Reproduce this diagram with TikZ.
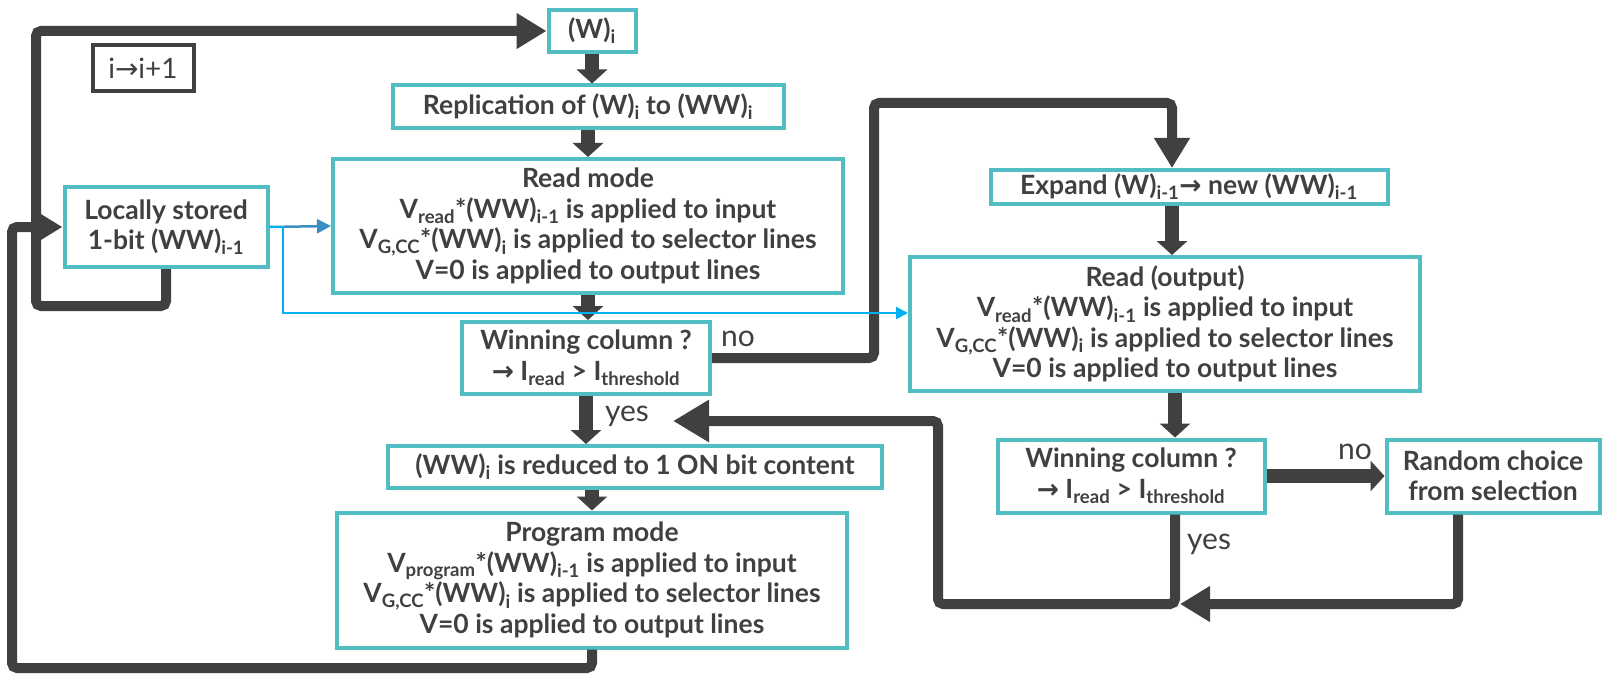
\documentclass[tikz,border=0pt]{standalone}
\usepackage{fontspec}
\setmainfont{Lato}
\newfontfamily\symfont{DejaVu Sans}
\usetikzlibrary{arrows.meta}
\definecolor{boxteal}{HTML}{52BEC3}
\definecolor{ink}{HTML}{404040}
\definecolor{wireblue}{HTML}{3A8EC2}
\definecolor{skyblue}{HTML}{00B0F0}
\newcommand{\toarr}{{\symfont →}}
\tikzset{
  box/.style={draw=boxteal, line width=4pt, fill=white, text=ink, align=center, inner sep=2pt,
    font=\fontsize{26.5}{30.5}\selectfont\bfseries},
  incbox/.style={draw=ink, line width=4pt, text=ink, inner sep=2pt, font=\fontsize{28}{31}\selectfont},
  lbl/.style={text=ink, inner sep=0pt, font=\fontsize{30}{32}\selectfont},
  flow/.style={draw=ink, line width=14pt, -{Triangle[length=14pt,width=30pt]}},
  lp/.style={draw=ink, line width=10pt, rounded corners=5pt, -{Triangle[length=30pt,width=34pt]}}
}
\begin{document}
\begin{tikzpicture}[x=1pt, y=-1pt]
\useasboundingbox (0,0) rectangle (1612,674);
\node[box, minimum width=87pt, minimum height=42pt] (w) at (592,31) {(W)\textsubscript{i}};
\node[incbox, minimum width=101pt, minimum height=46pt] (inc) at (143,68) {i\toarr i+1};
\node[box, minimum width=391pt, minimum height=43pt] (rep) at (588,107) {Replication of (W)\textsubscript{i} to (WW)\textsubscript{i}};
\node[box, minimum width=510pt, minimum height=134pt] (read) at (588,226) {Read mode\\
  V\textsubscript{read}*(WW)\textsubscript{i-1} is applied to input\\
  V\textsubscript{G,CC}*(WW)\textsubscript{i} is applied to selector lines\\
  V=0 is applied to output lines};
\node[box, minimum width=203pt, minimum height=80pt] (loc) at (166,227) {Locally stored\\ 1-bit (WW)\textsubscript{i-1}};
\node[box, minimum width=248pt, minimum height=72pt] (wc1) at (586,358) {Winning column ?\\ \toarr{} I\textsubscript{read} > I\textsubscript{threshold}};
\node[box, minimum width=494pt, minimum height=42pt] (red) at (635,467) {(WW)\textsubscript{i} is reduced to 1 ON bit content};
\node[box, minimum width=510pt, minimum height=135pt] (prog) at (592,580) {Program mode\\
  V\textsubscript{program}*(WW)\textsubscript{i-1} is applied to input\\
  V\textsubscript{G,CC}*(WW)\textsubscript{i} is applied to selector lines\\
  V=0 is applied to output lines};
\node[box, minimum width=397pt, minimum height=34pt] (expand) at (1189,187) {Expand (W)\textsubscript{i-1}\toarr{} new (WW)\textsubscript{i-1}};
\node[box, minimum width=510pt, minimum height=134pt] (readout) at (1165,324) {Read (output)\\
  V\textsubscript{read}*(WW)\textsubscript{i-1} is applied to input\\
  V\textsubscript{G,CC}*(WW)\textsubscript{i} is applied to selector lines\\
  V=0 is applied to output lines};
\node[box, minimum width=267pt, minimum height=73pt] (wc2) at (1131,476) {Winning column ?\\ \toarr{} I\textsubscript{read} > I\textsubscript{threshold}};
\node[box, minimum width=213pt, minimum height=73pt] (rand) at (1493,476) {Random choice\\ from selection};
\node[lbl] (no1) at (738,339) {no};
\node[lbl] (yes1) at (627,416) {yes};
\node[lbl] (no2) at (1355,452) {no};
\node[lbl] (yes2) at (1209,544) {yes};
\coordinate (back) at (673,421);
\coordinate (join) at (1180,604);
\draw[flow] (w.south) -- (w.south |- rep.north);
\draw[flow] (rep.south) -- (read.north);
\draw[flow] (read.south) -- (read.south |- wc1.north);
\draw[flow] (wc1.south) -- (wc1.south |- red.north);
\draw[flow] (prog.north |- red.south) -- (prog.north);
\draw[flow] ([xshift=-17pt]expand.south) -- ([xshift=-17pt]expand.south |- readout.north);
\draw[flow] ([xshift=44pt]wc2.north |- readout.south) -- ([xshift=44pt]wc2.north);
\draw[flow] (wc2.east) -- (rand.west);
\draw[lp] (loc.south) |- (36,306) |- (w.west);
\draw[lp] (prog.south) |- (12,668) |- (loc.west);
\draw[lp] (wc1.east) -| (874,103) -| ([xshift=-17pt]expand.north);
\draw[lp, -{Triangle[length=36pt,width=40pt]}] ([xshift=44pt]wc2.south) |- (938,604) |- (back);
\draw[lp] ([xshift=-35pt]rand.south) |- (join);
\draw[wireblue, line width=2.5pt, -{Triangle[length=14pt,width=14pt]}] (loc.east) -- (read.west);
\draw[skyblue, line width=2pt, -{Triangle[length=12pt,width=12pt]}] (loc.east) -| (283,313) -- ([yshift=11pt]readout.west);
\end{tikzpicture}
\end{document}
